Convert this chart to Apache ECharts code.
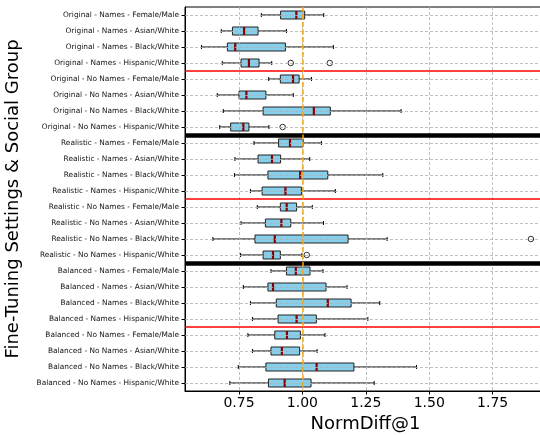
<!DOCTYPE html>
<html>
<head>
<meta charset="utf-8">
<script src="https://cdn.jsdelivr.net/npm/echarts@6/dist/echarts.min.js"></script>
<style>
  html, body { margin: 0; padding: 0; background: #fff; }
  #main { width: 540px; height: 435px; }
</style>
</head>
<body>
<div id="main"></div>
<script>
// categories, top to bottom
var categories = [
  'Original - Names - Female/Male',
  'Original - Names - Asian/White',
  'Original - Names - Black/White',
  'Original - Names - Hispanic/White',
  'Original - No Names - Female/Male',
  'Original - No Names - Asian/White',
  'Original - No Names - Black/White',
  'Original - No Names - Hispanic/White',
  'Realistic - Names - Female/Male',
  'Realistic - Names - Asian/White',
  'Realistic - Names - Black/White',
  'Realistic - Names - Hispanic/White',
  'Realistic - No Names - Female/Male',
  'Realistic - No Names - Asian/White',
  'Realistic - No Names - Black/White',
  'Realistic - No Names - Hispanic/White',
  'Balanced - Names - Female/Male',
  'Balanced - Names - Asian/White',
  'Balanced - Names - Black/White',
  'Balanced - Names - Hispanic/White',
  'Balanced - No Names - Female/Male',
  'Balanced - No Names - Asian/White',
  'Balanced - No Names - Black/White',
  'Balanced - No Names - Hispanic/White'
];

// box statistics
var lows    = [0.838, 0.680, 0.602, 0.684, 0.867, 0.664, 0.688, 0.674,
               0.809, 0.734, 0.732, 0.795, 0.822, 0.758, 0.647, 0.756,
               0.876, 0.767, 0.795, 0.803, 0.785, 0.803, 0.747, 0.714];
var q1s     = [0.914, 0.724, 0.704, 0.758, 0.913, 0.750, 0.845, 0.717,
               0.906, 0.825, 0.864, 0.841, 0.913, 0.854, 0.813, 0.845,
               0.937, 0.864, 0.897, 0.904, 0.891, 0.876, 0.856, 0.866];
var medians = [0.976, 0.770, 0.735, 0.789, 0.963, 0.779, 1.045, 0.767,
               0.951, 0.880, 0.991, 0.933, 0.938, 0.917, 0.891, 0.884,
               0.974, 0.884, 1.100, 0.977, 0.939, 0.919, 1.056, 0.930];
var q3s     = [1.009, 0.825, 0.933, 0.829, 0.987, 0.856, 1.110, 0.789,
               1.003, 0.914, 1.100, 0.996, 0.977, 0.954, 1.180, 0.913,
               1.030, 1.093, 1.192, 1.055, 0.992, 0.989, 1.203, 1.034];
var highs   = [1.084, 0.937, 1.122, 0.879, 1.036, 0.964, 1.389, 0.868,
               1.075, 1.029, 1.317, 1.130, 1.039, 1.083, 1.334, 0.998,
               1.081, 1.176, 1.305, 1.258, 1.089, 1.058, 1.450, 1.283];

// outliers: [value, row (1-based)]
var outliers = [[0.954, 4], [1.108, 4], [0.922, 8], [1.901, 15], [1.017, 16]];

var xTicks = [0.75, 1.00, 1.25, 1.50, 1.75];
var redSeps = [4.5, 12.5, 20.5];
var blackSeps = [8.5, 16.5];
var refValue = 1.0;

var rows = categories.map(function (c, i) { return i + 1; });
var boxData = rows.map(function (r, i) {
  return [r, lows[i], q1s[i], medians[i], q3s[i], highs[i]];
});

function renderBox(params, api) {
  var y = api.value(0);
  var pLow = api.coord([api.value(1), y]);
  var pQ1 = api.coord([api.value(2), y]);
  var pMed = api.coord([api.value(3), y]);
  var pQ3 = api.coord([api.value(4), y]);
  var pHigh = api.coord([api.value(5), y]);
  var h = api.size([0, 1])[1] * 0.25;
  var cy = pQ1[1];
  var capH = h / 2;
  var black = { stroke: '#000', lineWidth: 1 };
  return {
    type: 'group',
    children: [
      { type: 'line', shape: { x1: pLow[0], y1: cy, x2: pQ1[0], y2: cy }, style: black },
      { type: 'line', shape: { x1: pQ3[0], y1: cy, x2: pHigh[0], y2: cy }, style: black },
      { type: 'line', shape: { x1: pLow[0], y1: cy - capH, x2: pLow[0], y2: cy + capH }, style: black },
      { type: 'line', shape: { x1: pHigh[0], y1: cy - capH, x2: pHigh[0], y2: cy + capH }, style: black },
      { type: 'rect', shape: { x: pQ1[0], y: cy - h, width: pQ3[0] - pQ1[0], height: 2 * h },
        style: { fill: '#87CEEB', stroke: '#222', lineWidth: 1 } },
      { type: 'line', shape: { x1: pMed[0], y1: cy - h, x2: pMed[0], y2: cy + h },
        style: { stroke: '#8B0000', lineWidth: 2.2 } }
    ]
  };
}

var gridLines = [];
xTicks.forEach(function (v) { gridLines.push({ xAxis: v }); });
rows.forEach(function (r) { gridLines.push({ yAxis: r }); });

var sepLines = [];
redSeps.forEach(function (v) {
  sepLines.push({ yAxis: v, lineStyle: { color: '#ff0000', width: 1.6, type: 'solid' } });
});
blackSeps.forEach(function (v) {
  sepLines.push({ yAxis: v, lineStyle: { color: '#000', width: 4.5, type: 'solid' } });
});
sepLines.push({ xAxis: refValue, lineStyle: { color: '#FFA500', width: 1.5, type: [5, 2.5] } });

var chart = echarts.init(document.getElementById('main'), null, { renderer: 'canvas' });
chart.setOption({
  animation: false,
  textStyle: { fontFamily: 'DejaVu Sans' },
  grid: {
    left: 185, top: 7, width: 361, bottom: 44,
    containLabel: false, outerBoundsMode: 'none',
    show: true, borderColor: '#000', borderWidth: 1
  },
  xAxis: {
    type: 'value',
    min: 0.537,
    max: 1.9605,
    name: 'NormDiff@1',
    nameLocation: 'middle',
    nameGap: 22,
    nameTextStyle: { fontSize: 18, color: '#000', fontFamily: 'DejaVu Sans' },
    axisLine: { show: true, lineStyle: { color: '#000', width: 1 } },
    axisTick: { show: true, customValues: xTicks, length: 3.5, lineStyle: { color: '#000' } },
    axisLabel: {
      customValues: xTicks, fontSize: 14, color: '#000', margin: 5,
      formatter: function (v) { return v.toFixed(2); }
    },
    splitLine: { show: false }
  },
  yAxis: {
    type: 'value',
    min: 0.5,
    max: 24.5,
    inverse: true,
    name: 'Fine-Tuning Settings & Social Group',
    nameLocation: 'middle',
    nameRotate: 90,
    nameGap: 163,
    nameTextStyle: { fontSize: 18, color: '#000', fontFamily: 'DejaVu Sans' },
    axisLine: { show: true, lineStyle: { color: '#000', width: 1 } },
    axisTick: { show: true, customValues: rows, length: 3.5, lineStyle: { color: '#000' } },
    axisLabel: {
      customValues: rows, fontSize: 7.4, color: '#111', margin: 6,
      formatter: function (v) { return categories[Math.round(v) - 1]; }
    },
    splitLine: { show: false }
  },
  series: [
    {
      type: 'line', data: [], z: 1, silent: true,
      markLine: {
        silent: true, symbol: ['none', 'none'], label: { show: false },
        animation: false,
        lineStyle: { color: '#b0b0b0', width: 0.8, type: [3, 2] },
        data: gridLines
      }
    },
    {
      type: 'custom', z: 2,
      renderItem: renderBox,
      encode: { x: [1, 2, 3, 4, 5], y: 0 },
      data: boxData
    },
    {
      type: 'scatter', z: 3,
      symbol: 'circle', symbolSize: 5.5,
      itemStyle: { color: 'rgba(0,0,0,0)', borderColor: '#000', borderWidth: 1 },
      data: outliers
    },
    {
      type: 'line', data: [], z: 4, silent: true,
      markLine: {
        silent: true, symbol: ['none', 'none'], label: { show: false },
        animation: false,
        data: sepLines
      }
    }
  ]
});
</script>
</body>
</html>
